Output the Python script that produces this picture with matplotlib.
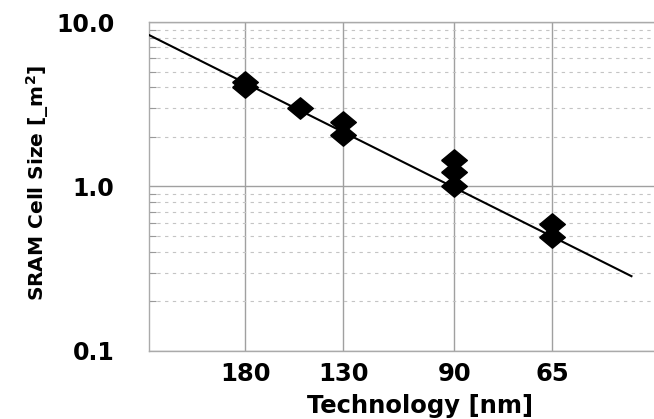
import numpy as np
import matplotlib.pyplot as plt
from matplotlib.ticker import FixedLocator, NullFormatter, LogLocator

# SRAM cell size per technology node
tech = [180, 180, 150, 130, 130, 90, 90, 90, 65, 65]
cell_size = [4.3, 4.0, 3.0, 2.45, 2.05, 1.45, 1.22, 1.0, 0.59, 0.49]

# trend line end points
fit_x = [247, 50]
fit_y = [8.3, 0.285]

x_ticks = [180, 130, 90, 65]
y_ticks = [0.1, 1.0, 10.0]
y_labels = ["0.1", "1.0", "10.0"]

plt.rcParams["font.family"] = "DejaVu Sans"
plt.rcParams["font.weight"] = "bold"

fig = plt.figure(figsize=(6.54, 4.19), dpi=100)
ax = fig.add_axes([149/654, 1 - 351/419, 1 - 149/654, (351 - 22)/419])

ax.set_xscale("log")
ax.set_yscale("log")
ax.set_xlim(247.5, 46.4)
ax.set_ylim(0.1, 10.0)

ax.plot(fit_x, fit_y, color="black", lw=1.5, zorder=3)

diamond = [(-1.2, 0), (0, 1), (1.2, 0), (0, -1), (-1.2, 0)]
ax.plot(tech, cell_size, linestyle="none", marker=diamond, markersize=18.5,
        color="black", zorder=4)

ax.xaxis.set_major_locator(FixedLocator(x_ticks))
ax.set_xticklabels([str(t) for t in x_ticks])
ax.xaxis.set_minor_locator(FixedLocator([]))
ax.xaxis.set_minor_formatter(NullFormatter())

ax.yaxis.set_major_locator(FixedLocator(y_ticks))
ax.set_yticklabels(y_labels)
ax.yaxis.set_minor_locator(LogLocator(base=10, subs=np.arange(2, 10)))
ax.yaxis.set_minor_formatter(NullFormatter())

ax.grid(True, which="major", axis="both", color="#a0a0a0", lw=1.0, ls="-")
ax.grid(True, which="minor", axis="y", color="#c4c4c4", lw=0.8, ls=(0, (3, 4)))
ax.set_axisbelow(True)

ax.tick_params(axis="x", which="major", length=0, pad=8, labelsize=17.5)
ax.tick_params(axis="y", which="major", length=0, pad=25, labelsize=17)
ax.tick_params(axis="y", which="minor", direction="in", length=5,
               color="#999999", width=0.8)

for side in ["left", "bottom", "top"]:
    ax.spines[side].set_color("#aaaaaa")
    ax.spines[side].set_linewidth(1.0)
ax.spines["right"].set_visible(False)

ax.set_xlabel("Technology [nm]", fontsize=17.5, fontweight="bold")
ax.xaxis.set_label_coords(0.537, -0.13)
ax.set_ylabel("SRAM Cell Size [_m$^\\mathbf{2}$]", fontsize=14.5, fontweight="bold")
ax.yaxis.set_label_coords(-0.195, 0.51)

fig.savefig("out.png", dpi=100)
